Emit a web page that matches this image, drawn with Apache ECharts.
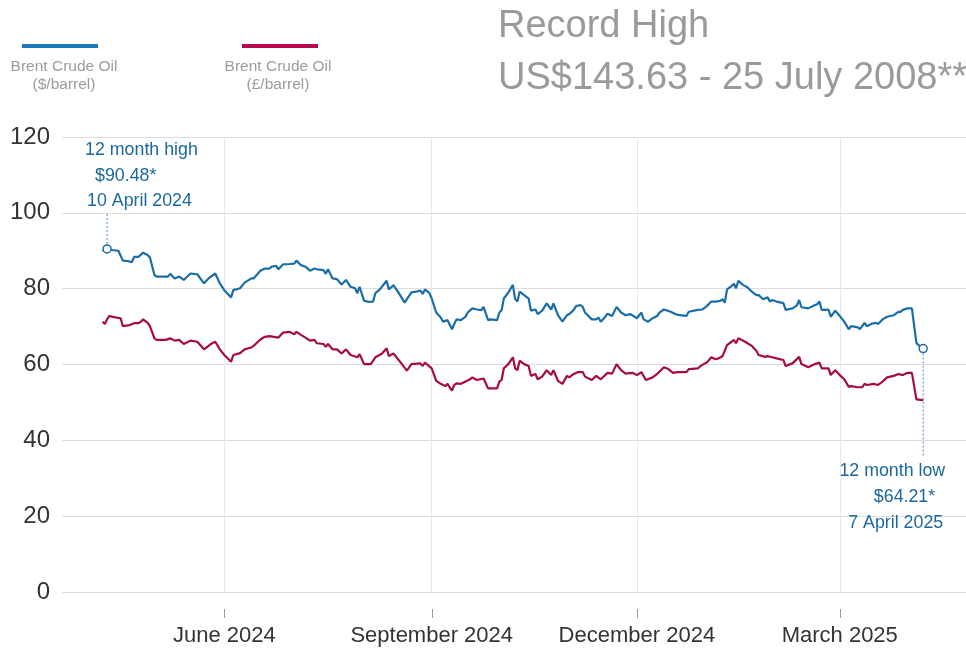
<!DOCTYPE html>
<html>
<head>
<meta charset="utf-8">
<script src="https://cdn.jsdelivr.net/npm/echarts@6/dist/echarts.min.js"></script>
<style>
html,body{margin:0;padding:0;background:#fff;}
#chart{width:966px;height:648px;}
</style>
</head>
<body>
<div id="chart"></div>
<script>
// ---- Data ----
const usdSeries = [
['2024-04-08',89.9],['2024-04-09',90.3],['2024-04-10',90.48],['2024-04-12',90.2],['2024-04-15',90.0],['2024-04-17',87.4],['2024-04-19',87.3],['2024-04-21',87.0],['2024-04-22',88.4],['2024-04-24',88.4],['2024-04-26',89.5],['2024-04-28',88.9],['2024-04-29',88.2],
['2024-05-01',83.6],['2024-05-02',83.2],['2024-05-07',83.2],['2024-05-08',83.9],['2024-05-10',82.7],['2024-05-12',83.2],['2024-05-14',82.3],['2024-05-17',84.0],['2024-05-20',83.8],['2024-05-23',81.4],['2024-05-25',82.7],['2024-05-28',84.0],['2024-05-30',81.4],
['2024-06-01',79.6],['2024-06-04',77.7],['2024-06-05',79.6],['2024-06-08',80.1],['2024-06-10',81.6],['2024-06-13',82.7],['2024-06-14',82.7],['2024-06-17',84.7],['2024-06-19',85.3],['2024-06-21',85.3],['2024-06-22',85.8],['2024-06-24',86.0],['2024-06-25',85.1],['2024-06-27',86.4],['2024-06-30',86.5],
['2024-07-02',86.6],['2024-07-03',87.4],['2024-07-05',86.2],['2024-07-07',85.8],['2024-07-08',85.3],['2024-07-09',84.7],['2024-07-11',85.3],['2024-07-12',85.1],['2024-07-15',84.9],['2024-07-16',83.9],['2024-07-17',85.1],['2024-07-19',82.7],['2024-07-21',82.5],['2024-07-23',81.1],['2024-07-25',82.3],['2024-07-27',80.5],['2024-07-29',80.1],['2024-07-30',78.8],['2024-07-31',80.5],
['2024-08-02',76.8],['2024-08-04',76.5],['2024-08-06',76.6],['2024-08-07',78.8],['2024-08-09',79.8],['2024-08-12',82.1],['2024-08-13',79.8],['2024-08-15',80.9],['2024-08-17',79.2],['2024-08-20',76.3],['2024-08-23',79.0],['2024-08-25',79.2],['2024-08-27',79.5],['2024-08-28',78.6],['2024-08-29',79.8],['2024-08-31',78.8],
['2024-09-01',77.4],['2024-09-03',73.7],['2024-09-05',72.4],['2024-09-06',71.3],['2024-09-08',71.7],['2024-09-10',69.3],['2024-09-11',70.7],['2024-09-12',71.9],['2024-09-14',71.7],['2024-09-16',72.6],['2024-09-17',73.7],['2024-09-19',74.8],['2024-09-21',74.5],['2024-09-23',74.3],['2024-09-24',75.2],['2024-09-26',71.7],['2024-09-27',71.9],['2024-09-30',71.7],
['2024-10-01',73.7],['2024-10-02',74.3],['2024-10-03',77.4],['2024-10-05',79.0],['2024-10-07',81.0],['2024-10-08',77.3],['2024-10-09',76.6],['2024-10-10',79.2],['2024-10-12',78.3],['2024-10-14',77.4],['2024-10-15',74.2],['2024-10-17',74.5],['2024-10-18',73.3],['2024-10-20',74.2],['2024-10-22',76.1],['2024-10-24',74.5],['2024-10-25',76.1],['2024-10-27',73.0],['2024-10-29',71.3],['2024-10-31',73.0],
['2024-11-01',73.3],['2024-11-03',74.4],['2024-11-04',75.4],['2024-11-06',75.7],['2024-11-07',75.2],['2024-11-08',73.7],['2024-11-11',71.9],['2024-11-13',71.9],['2024-11-14',72.4],['2024-11-15',71.3],['2024-11-17',72.6],['2024-11-18',73.4],['2024-11-20',72.8],['2024-11-22',75.2],['2024-11-24',73.7],['2024-11-26',73.0],['2024-11-28',73.3],['2024-11-30',72.6],
['2024-12-01',72.2],['2024-12-03',73.7],['2024-12-04',71.9],['2024-12-06',71.3],['2024-12-08',72.2],['2024-12-10',72.8],['2024-12-11',73.7],['2024-12-13',74.5],['2024-12-16',73.9],['2024-12-18',73.3],['2024-12-20',73.0],['2024-12-23',72.8],['2024-12-24',73.9],['2024-12-28',74.4],['2024-12-30',74.5],
['2025-01-01',75.4],['2025-01-03',76.6],['2025-01-05',76.6],['2025-01-07',76.8],['2025-01-08',77.2],['2025-01-09',76.3],['2025-01-10',79.8],['2025-01-12',80.7],['2025-01-13',81.3],['2025-01-14',80.1],['2025-01-15',82.1],['2025-01-17',81.0],['2025-01-19',80.4],['2025-01-21',79.2],['2025-01-23',78.3],['2025-01-24',78.3],['2025-01-26',77.2],['2025-01-28',77.7],['2025-01-29',76.6],['2025-01-30',77.0],
['2025-02-01',76.6],['2025-02-04',76.2],['2025-02-05',74.4],['2025-02-08',74.8],['2025-02-10',75.6],['2025-02-11',77.0],['2025-02-12',75.1],['2025-02-15',74.8],['2025-02-17',75.4],['2025-02-19',75.9],['2025-02-20',76.6],['2025-02-21',74.4],['2025-02-23',74.4],['2025-02-24',74.5],['2025-02-25',72.6],['2025-02-27',74.2],
['2025-03-01',72.8],['2025-03-03',71.3],['2025-03-05',69.3],['2025-03-06',70.1],['2025-03-09',69.8],['2025-03-10',69.3],['2025-03-12',71.0],['2025-03-13',70.1],['2025-03-15',70.7],['2025-03-17',71.0],['2025-03-18',70.7],['2025-03-20',71.9],['2025-03-22',72.6],['2025-03-25',73.0],['2025-03-27',73.9],['2025-03-28',73.9],['2025-03-29',74.4],['2025-03-31',74.8],
['2025-04-02',74.8],['2025-04-04',65.7],['2025-04-05',65.1],['2025-04-07',64.21]
];

const gbpSeries = [
['2024-04-08',71.3],['2024-04-09',70.7],['2024-04-10',71.9],['2024-04-11',72.8],['2024-04-13',72.5],['2024-04-16',72.2],['2024-04-17',70.1],['2024-04-20',70.4],['2024-04-22',70.9],['2024-04-24',70.9],['2024-04-25',71.3],['2024-04-26',71.9],['2024-04-28',71.0],['2024-04-29',70.1],
['2024-05-01',66.9],['2024-05-02',66.5],['2024-05-06',66.5],['2024-05-08',66.9],['2024-05-10',66.3],['2024-05-12',66.5],['2024-05-14',65.4],['2024-05-17',66.3],['2024-05-20',66.0],['2024-05-23',64.0],['2024-05-26',65.4],['2024-05-28',66.0],['2024-05-30',64.0],
['2024-06-01',62.5],['2024-06-04',60.7],['2024-06-05',62.5],['2024-06-08',63.0],['2024-06-10',64.0],['2024-06-13',64.5],['2024-06-14',64.9],['2024-06-17',66.6],['2024-06-19',67.3],['2024-06-21',67.5],['2024-06-25',67.1],['2024-06-27',68.4],['2024-06-30',68.6],
['2024-07-02',68.0],['2024-07-03',68.6],['2024-07-05',67.8],['2024-07-07',67.1],['2024-07-09',66.3],['2024-07-11',66.5],['2024-07-12',65.6],['2024-07-15',65.4],['2024-07-16',64.7],['2024-07-17',65.4],['2024-07-19',64.0],['2024-07-21',64.0],['2024-07-23',62.9],['2024-07-25',64.0],['2024-07-27',62.5],['2024-07-30',61.9],['2024-07-31',62.7],
['2024-08-02',60.1],['2024-08-05',60.1],['2024-08-07',61.9],['2024-08-10',62.9],['2024-08-12',64.3],['2024-08-13',62.2],['2024-08-15',62.9],['2024-08-18',60.7],['2024-08-21',58.4],['2024-08-23',60.1],['2024-08-27',60.3],['2024-08-28',59.6],['2024-08-29',60.5],
['2024-09-01',59.0],['2024-09-03',55.7],['2024-09-05',54.9],['2024-09-07',54.3],['2024-09-08',54.9],['2024-09-10',53.1],['2024-09-11',54.6],['2024-09-12',55.0],['2024-09-14',54.9],['2024-09-16',55.5],['2024-09-18',56.1],['2024-09-19',56.6],['2024-09-21',55.9],['2024-09-24',56.3],['2024-09-26',53.7],['2024-09-30',53.7],
['2024-10-01',55.5],['2024-10-02',55.9],['2024-10-03',59.0],['2024-10-05',60.1],['2024-10-07',61.9],['2024-10-08',59.0],['2024-10-09',58.5],['2024-10-10',61.0],['2024-10-12',60.1],['2024-10-14',59.6],['2024-10-15',57.0],['2024-10-17',57.5],['2024-10-18',56.1],['2024-10-20',56.8],['2024-10-22',58.5],['2024-10-24',57.2],['2024-10-25',58.5],['2024-10-27',55.7],['2024-10-29',54.9],['2024-10-31',57.0],
['2024-11-01',56.6],['2024-11-03',57.5],['2024-11-05',58.0],['2024-11-07',58.0],['2024-11-08',56.8],['2024-11-11',55.9],['2024-11-13',57.0],['2024-11-15',56.1],['2024-11-18',57.8],['2024-11-20',57.6],['2024-11-22',60.1],['2024-11-24',58.5],['2024-11-26',57.6],['2024-11-29',57.8],
['2024-12-01',57.2],['2024-12-03',58.0],['2024-12-05',55.9],['2024-12-08',56.6],['2024-12-10',57.5],['2024-12-13',59.3],['2024-12-15',58.8],['2024-12-17',57.8],['2024-12-19',58.0],['2024-12-23',58.0],['2024-12-24',58.8],['2024-12-28',59.0],['2024-12-30',59.9],
['2025-01-01',60.5],['2025-01-03',61.9],['2025-01-05',61.4],['2025-01-06',61.6],['2025-01-08',62.2],['2025-01-10',65.1],['2025-01-12',66.0],['2025-01-13',66.5],['2025-01-14',65.6],['2025-01-15',66.9],['2025-01-18',66.0],['2025-01-21',64.9],['2025-01-23',63.6],['2025-01-24',62.5],['2025-01-27',62.0],['2025-01-28',62.2],['2025-01-30',61.9],
['2025-02-01',61.6],['2025-02-04',61.2],['2025-02-05',59.6],['2025-02-08',60.3],['2025-02-11',62.0],['2025-02-12',60.1],['2025-02-15',59.3],['2025-02-18',60.1],['2025-02-20',60.5],['2025-02-21',59.0],['2025-02-24',59.0],['2025-02-25',57.2],['2025-02-27',58.5],
['2025-03-01',57.2],['2025-03-03',56.1],['2025-03-05',54.1],['2025-03-06',54.3],['2025-03-09',54.0],['2025-03-11',54.0],['2025-03-12',54.9],['2025-03-13',54.6],['2025-03-16',54.9],['2025-03-18',54.6],['2025-03-20',55.5],['2025-03-22',56.6],['2025-03-25',57.0],['2025-03-27',57.5],['2025-03-29',57.2],['2025-03-31',57.8],
['2025-04-02',57.8],['2025-04-04',50.8],['2025-04-07',50.6]
];

const seriesNames = ['Brent Crude Oil ($/barrel)', 'Brent Crude Oil (£/barrel)'];
const xTickDates = ['2024-06-01', '2024-09-01', '2024-12-01', '2025-03-01'];
const xTickLabels = ['June 2024', 'September 2024', 'December 2024', 'March 2025'];
const yTicks = [0, 20, 40, 60, 80, 100, 120];
const xRange = ['2024-03-21', '2025-04-26'];
const highPoint = ['2024-04-10', 90.48];
const lowPoint = ['2025-04-07', 64.21];
const highText = ['12 month high', '$90.48*', '10 April 2024'];
const lowText = ['12 month low', '$64.21*', '7 April 2025'];
const titleLines = ['Record High', 'US$143.63 - 25 July 2008**'];

// ---- Styling ----
const BLUE = '#1a6ea8';
const RED = '#a60c40';
const ANNO = '#1a68a0';
const FONT = '"Liberation Sans", Arial, Helvetica, sans-serif';

function ts(s) { const p = s.split('-').map(Number); return Date.UTC(p[0], p[1] - 1, p[2]); }

const tickTs = xTickDates.map(ts);
const labelMap = {};
tickTs.forEach((t, i) => { labelMap[t] = xTickLabels[i]; });

const chart = echarts.init(document.getElementById('chart'), null, { renderer: 'canvas' });

chart.setOption({
  animation: false,
  backgroundColor: '#fff',
  grid: { left: 62, right: 0, top: 137, bottom: 56, containLabel: false },
  xAxis: {
    type: 'value',
    min: ts(xRange[0]),
    max: ts(xRange[1]),
    scale: true,
    offset: 22,
    axisLine: { show: false },
    axisTick: { show: false, customValues: tickTs },
    axisLabel: {
      customValues: tickTs,
      margin: 11,
      color: '#333',
      fontSize: 22,
      fontFamily: FONT,
      showMinLabel: true, showMaxLabel: true,
      formatter: function (v) { return labelMap[v] || ''; }
    },
    splitLine: { show: true, lineStyle: { color: '#e8e8e8', width: 1 } }
  },
  yAxis: {
    type: 'value',
    min: yTicks[0],
    max: yTicks[yTicks.length - 1],
    interval: yTicks[1] - yTicks[0],
    axisLine: { show: false },
    axisTick: { show: false },
    axisLabel: { color: '#333', fontSize: 24, fontFamily: FONT, margin: 12 },
    splitLine: { show: true, lineStyle: { color: '#dcdcdc', width: 1 } }
  },
  series: [
    {
      name: seriesNames[0], type: 'line', showSymbol: false, symbol: 'none',
      lineStyle: { color: BLUE, width: 2.2 }, itemStyle: { color: BLUE },
      data: usdSeries.map(d => [ts(d[0]), d[1]]),
      z: 3,
      markPoint: {
        symbol: 'circle', symbolSize: 8,
        itemStyle: { color: '#fff', borderColor: BLUE, borderWidth: 1.5 },
        label: { show: false },
        data: [
          { coord: [ts(highPoint[0]), highPoint[1]] },
          { coord: [ts(lowPoint[0]), lowPoint[1]] }
        ]
      }
    },
    {
      name: seriesNames[1], type: 'line', showSymbol: false, symbol: 'none',
      lineStyle: { color: RED, width: 2.2 }, itemStyle: { color: RED },
      data: gbpSeries.map(d => [ts(d[0]), d[1]]),
      z: 2
    }
  ]
});

const hi = chart.convertToPixel({ gridIndex: 0 }, [ts(highPoint[0]), highPoint[1]]);
const lo = chart.convertToPixel({ gridIndex: 0 }, [ts(lowPoint[0]), lowPoint[1]]);
const baseY = chart.convertToPixel({ yAxisIndex: 0 }, yTicks[0]);

function txt(x, y, text, opts) {
  return {
    type: 'text', x: x, y: y, silent: true,
    style: Object.assign({ text: text, fontFamily: FONT, fill: '#999', fontSize: 15.5, align: 'center', verticalAlign: 'middle' }, opts || {})
  };
}

const g = [];
// Title
g.push(txt(498, 27, titleLines[0], { fill: '#9a9a9a', fontSize: 38, align: 'left' }));
g.push(txt(498, 79, titleLines[1], { fill: '#9a9a9a', fontSize: 38, align: 'left' }));
// Legend
g.push({ type: 'line', shape: { x1: 22, y1: 46, x2: 98, y2: 46 }, style: { stroke: '#1a7abb', lineWidth: 4 } });
g.push(txt(64, 67, 'Brent Crude Oil', { fill: '#9c9c9c' }));
g.push(txt(64, 85, '($/barrel)', { fill: '#9c9c9c' }));
g.push({ type: 'line', shape: { x1: 242, y1: 46, x2: 318, y2: 46 }, style: { stroke: '#b3094a', lineWidth: 4 } });
g.push(txt(278, 67, 'Brent Crude Oil', { fill: '#9c9c9c' }));
g.push(txt(278, 85, '(£/barrel)', { fill: '#9c9c9c' }));
// X-axis tick marks, placed below the plot through the x scale
tickTs.forEach(function (t) {
  const x = Math.round(chart.convertToPixel({ xAxisIndex: 0 }, t)) + 0.5;
  g.push({ type: 'line', silent: true, shape: { x1: x, y1: baseY + 17, x2: x, y2: baseY + 26 }, style: { stroke: '#9a9a9a', lineWidth: 1 } });
});
// High annotation
g.push({ type: 'line', shape: { x1: hi[0], y1: hi[1] - 5, x2: hi[0], y2: hi[1] - 36 }, style: { stroke: '#4a8cc4', lineWidth: 1, lineDash: [2, 2] } });
g.push(txt(hi[0] - 22, hi[1] - 99, highText[0], { fill: ANNO, fontSize: 17.8, align: 'left' }));
g.push(txt(hi[0] - 12, hi[1] - 73, highText[1], { fill: ANNO, fontSize: 17.8, align: 'left' }));
g.push(txt(hi[0] - 20, hi[1] - 48, highText[2], { fill: ANNO, fontSize: 17.8, align: 'left' }));
// Low annotation
g.push({ type: 'line', shape: { x1: lo[0], y1: lo[1] + 5, x2: lo[0], y2: lo[1] + 107 }, style: { stroke: '#4a8cc4', lineWidth: 1, lineDash: [2, 2] } });
g.push(txt(lo[0] + 22, lo[1] + 123, lowText[0], { fill: ANNO, fontSize: 17.8, align: 'right' }));
g.push(txt(lo[0] + 12, lo[1] + 149, lowText[1], { fill: ANNO, fontSize: 17.8, align: 'right' }));
g.push(txt(lo[0] + 20, lo[1] + 175, lowText[2], { fill: ANNO, fontSize: 17.8, align: 'right' }));

chart.setOption({ graphic: { elements: g } });
</script>
</body>
</html>
